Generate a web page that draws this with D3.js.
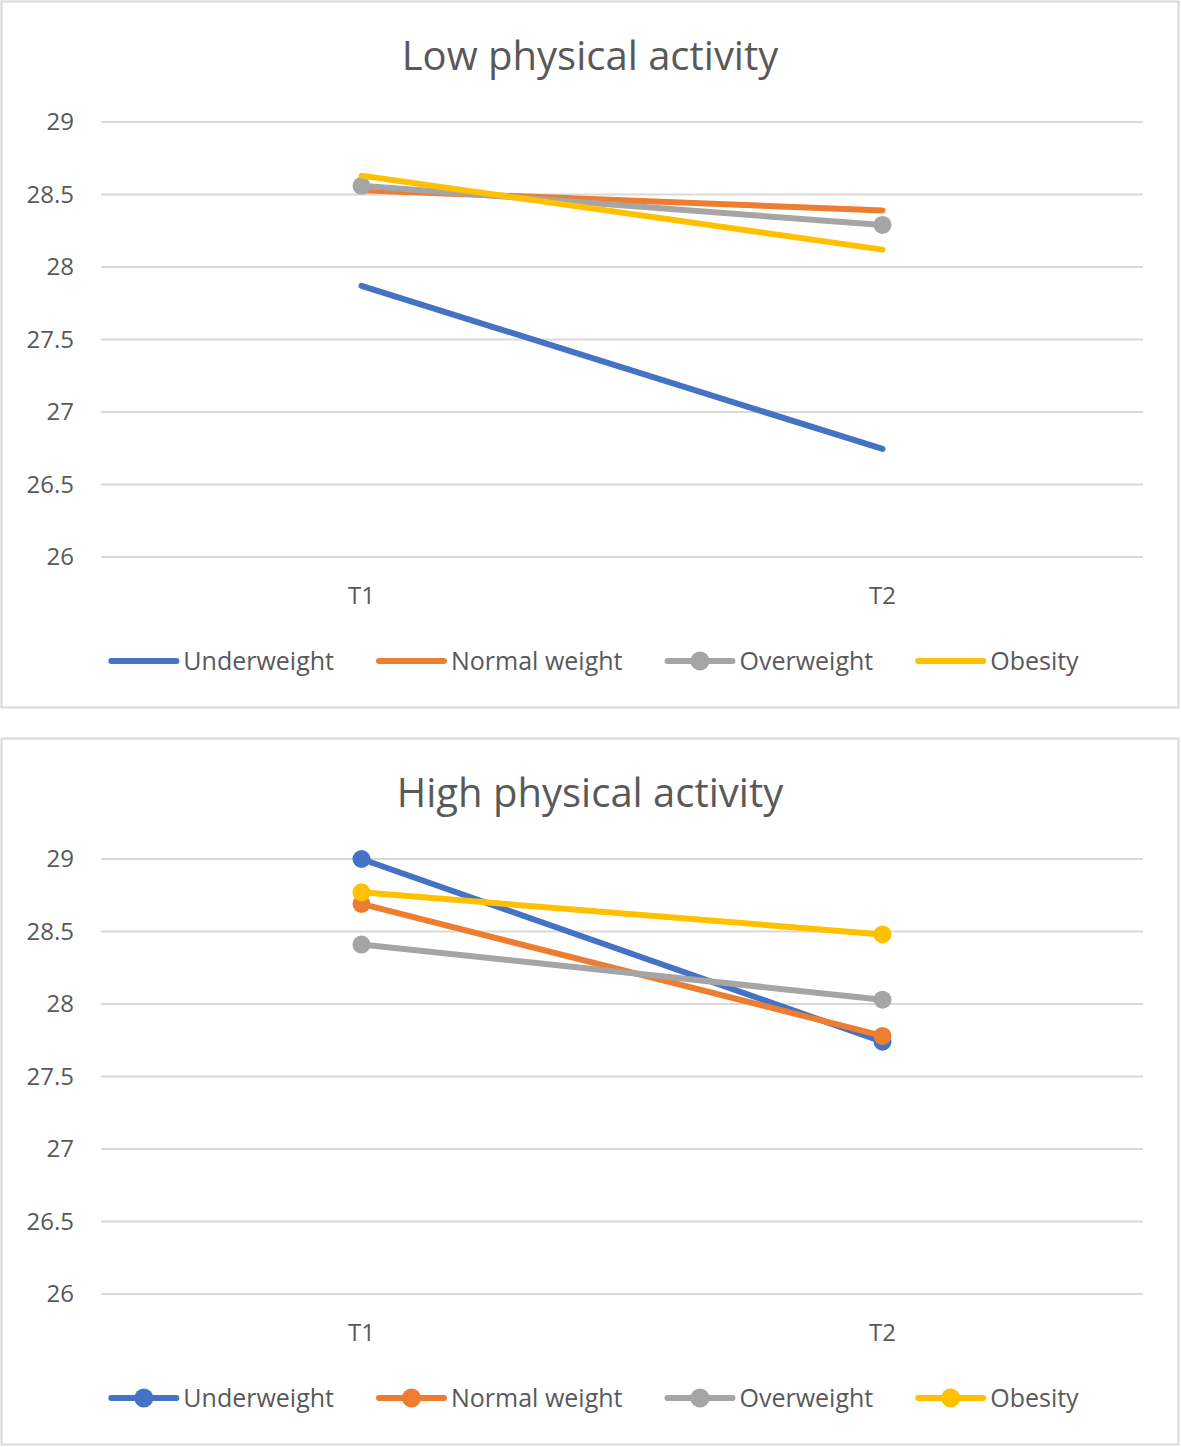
<!DOCTYPE html>
<html><head><meta charset="utf-8">
<script src="https://cdn.jsdelivr.net/npm/d3@7"></script>
<style>body{margin:0;background:#fff;} svg{display:block;font-family:"Open Sans",sans-serif;}</style>
</head><body>
<svg id="c" width="1181" height="1447"></svg>
<script>
const categories = ["T1", "T2"];
const seriesNames = ["Underweight", "Normal weight", "Overweight", "Obesity"];
const colors = ["#4472c4", "#ed7d31", "#a5a5a5", "#ffc000"];
const yTicks = [26, 26.5, 27, 27.5, 28, 28.5, 29];
const lowUnderweight = [27.87, 26.745];
const lowNormal = [28.53, 28.39];
const lowOverweight = [28.56, 28.29];
const lowObesity = [28.63, 28.12];
const highUnderweight = [29.0, 27.74];
const highNormal = [28.69, 27.78];
const highOverweight = [28.41, 28.03];
const highObesity = [28.77, 28.48];

const panels = [
  {title: "Low physical activity", top: 0, series: [lowUnderweight, lowNormal, lowOverweight, lowObesity], markers: [false, false, true, false]},
  {title: "High physical activity", top: 737, series: [highUnderweight, highNormal, highOverweight, highObesity], markers: [true, true, true, true]}
];

const svg = d3.select("#c");
const textColor = "#595959";

panels.forEach(p => {
  const g = svg.append("g").attr("transform", `translate(0,${p.top})`);
  g.append("rect").attr("x", 1.5).attr("y", 1.5).attr("width", 1177).attr("height", 706)
    .attr("fill", "#fff").attr("stroke", "#d9d9d9").attr("stroke-width", 2);
  g.append("text").attr("x", 590).attr("y", 70).attr("text-anchor", "middle")
    .attr("font-size", 40).attr("fill", textColor).text(p.title);

  const x = d3.scaleBand().domain(categories).range([101, 1143]);
  const y = d3.scaleLinear().domain([26, 29]).range([557, 122]);

  g.append("g").selectAll("line").data(yTicks).join("line")
    .attr("x1", 101).attr("x2", 1143)
    .attr("y1", d => y(d)).attr("y2", d => y(d))
    .attr("stroke", "#d9d9d9").attr("stroke-width", 2);
  g.append("g").selectAll("text").data(yTicks).join("text")
    .attr("x", 74).attr("y", d => y(d)).attr("dy", "0.35em").attr("text-anchor", "end")
    .attr("font-size", 24).attr("fill", textColor).text(d => d3.format("")(d));
  g.append("g").selectAll("text").data(categories).join("text")
    .attr("x", d => x(d) + x.bandwidth() / 2).attr("y", 596).attr("dy", "0.35em")
    .attr("text-anchor", "middle").attr("font-size", 24).attr("fill", textColor).text(d => d);

  const line = d3.line().x((d, i) => x(categories[i]) + x.bandwidth() / 2).y(d => y(d));
  p.series.forEach((s, k) => {
    g.append("path").datum(s).attr("d", line).attr("fill", "none")
      .attr("stroke", colors[k]).attr("stroke-width", 6).attr("stroke-linecap", "round");
    if (p.markers[k]) {
      g.append("g").selectAll("circle").data(s).join("circle")
        .attr("cx", (d, i) => x(categories[i]) + x.bandwidth() / 2).attr("cy", d => y(d))
        .attr("r", 9).attr("fill", colors[k]);
    }
  });

  // legend
  const lg = g.append("g");
  const items = lg.selectAll("g").data(seriesNames).join("g");
  items.append("line").attr("x1", 0).attr("x2", 65).attr("y1", 0).attr("y2", 0)
    .attr("stroke", d => colors[seriesNames.indexOf(d)]).attr("stroke-width", 6).attr("stroke-linecap", "round");
  items.filter(d => p.markers[seriesNames.indexOf(d)]).append("circle").attr("cx", 32.5).attr("cy", 0).attr("r", 9.5)
    .attr("fill", d => colors[seriesNames.indexOf(d)]);
  items.append("text").attr("x", 72).attr("y", 0).attr("dy", "0.35em")
    .attr("font-size", 25).attr("fill", textColor).text(d => d);
  let cx = 0;
  items.each(function () {
    d3.select(this).attr("transform", `translate(${cx},0)`);
    const w = d3.select(this).select("text").node().getComputedTextLength();
    cx += 72 + w + 45;
  });
  const total = cx - 45;
  lg.attr("transform", `translate(${595 - total / 2},661)`);
});
</script>
</body></html>
